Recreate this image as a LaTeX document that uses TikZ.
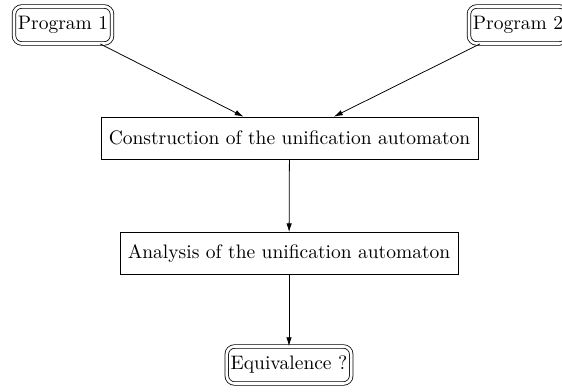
\documentclass[tikz,border=0pt]{standalone}
\usetikzlibrary{arrows.meta}
\begin{document}
\begin{tikzpicture}[x=0.513pt, y=-0.513pt,
    prog/.style={draw, double, double distance=1.4pt, rounded corners=4pt, inner xsep=2pt, minimum height=19pt},
    stage/.style={draw, inner xsep=4pt, minimum height=21.5pt},
    flow/.style={-{Latex[length=4.5pt,width=2.8pt]}}]
  \useasboundingbox (0,0) rectangle (562,392);
  % inputs
  \node[prog] (prog1) at (63, 25) {Program 1};
  \node[prog] (prog2) at (518, 25) {Program 2};
  % processing steps
  \node[stage] (constr) at (289.5, 138) {Construction of the unification automaton};
  \node[stage] (analysis) at (289, 253.5) {Analysis of the unification automaton};
  \node[prog] (equiv) at (289, 365) {Equivalence ?};

  \draw[flow] (prog1) -- ([xshift=-23.6pt]constr.north);
  \draw[flow] (prog2) -- ([xshift=22.8pt]constr.north);
  \draw[flow] (constr) -- (analysis);
  \draw[flow] (analysis) -- (equiv);
\end{tikzpicture}
\end{document}
